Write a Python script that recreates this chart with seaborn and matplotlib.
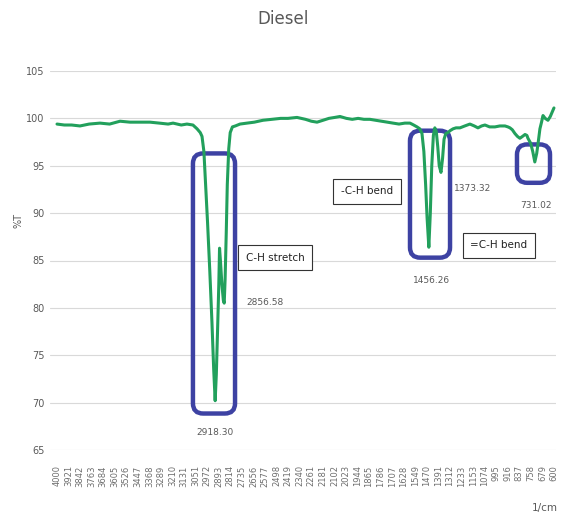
import numpy as np
import pandas as pd
import matplotlib
matplotlib.use("Agg")
import matplotlib.pyplot as plt
from matplotlib.patches import FancyBboxPatch
import seaborn as sns

# ---- data ----
wavenumber = [4000, 3950, 3900, 3843, 3780, 3706, 3640, 3569, 3500, 3430, 3364, 3300,
              3240, 3206, 3150, 3111, 3070, 3042, 3020, 3008, 2995, 2985, 2970, 2955,
              2940, 2928, 2918, 2910, 2900, 2893, 2888, 2882, 2872, 2862, 2856, 2850,
              2842, 2835, 2825, 2815, 2800, 2780, 2748, 2700, 2650, 2591, 2530, 2470,
              2420, 2358, 2300, 2260, 2221, 2180, 2140, 2100, 2064, 2020, 1980, 1940,
              1900, 1859, 1820, 1780, 1740, 1701, 1660, 1620, 1585, 1560, 1537, 1518,
              1503, 1490, 1478, 1468, 1456, 1446, 1436, 1425, 1415, 1405, 1395, 1385,
              1373, 1362, 1352, 1340, 1325, 1311, 1290, 1270, 1243, 1210, 1175, 1145,
              1120, 1095, 1072, 1040, 1004, 970, 935, 915, 901, 885, 867, 850, 833,
              815, 798, 785, 778, 760, 745, 731, 718, 705, 696, 685, 675, 660, 641,
              625, 614, 600]
transmittance = [99.4, 99.3, 99.3, 99.2, 99.4, 99.5, 99.4, 99.7, 99.6, 99.6, 99.6, 99.5,
                 99.4, 99.5, 99.3, 99.4, 99.3, 98.9, 98.5, 98.1, 96.5, 93.5, 89.0, 84.0,
                 78.5, 73.5, 70.2, 73.0, 78.5, 82.5, 86.3, 85.0, 82.5, 80.8, 80.5, 83.0,
                 88.0, 93.0, 96.8, 98.5, 99.1, 99.2, 99.4, 99.5, 99.6, 99.8, 99.9, 100.0,
                 100.0, 100.1, 99.9, 99.7, 99.6, 99.8, 100.0, 100.1, 100.2, 100.0, 99.9, 100.0,
                 99.9, 99.9, 99.8, 99.7, 99.6, 99.5, 99.4, 99.5, 99.5, 99.3, 99.1, 98.9,
                 98.4, 96.5, 93.0, 89.5, 86.4, 90.0, 95.0, 98.2, 99.0, 98.6, 97.0, 95.0,
                 94.3, 95.8, 97.8, 98.4, 98.5, 98.7, 98.9, 99.0, 99.0, 99.2, 99.4, 99.2,
                 99.0, 99.2, 99.3, 99.1, 99.1, 99.2, 99.2, 99.1, 99.0, 98.8, 98.4, 98.1, 97.9,
                 98.1, 98.3, 98.2, 97.9, 97.4, 96.5, 95.4, 96.3, 97.8, 98.9, 99.6, 100.3, 100.0, 99.8,
                 100.2, 100.6, 101.1]

tick_labels = [4000, 3921, 3842, 3763, 3684, 3605, 3526, 3447, 3368, 3289, 3210, 3131,
               3051, 2972, 2893, 2814, 2735, 2656, 2577, 2498, 2419, 2340, 2261, 2181,
               2102, 2023, 1944, 1865, 1786, 1707, 1628, 1549, 1470, 1391, 1312, 1233,
               1153, 1074, 995, 916, 837, 758, 679, 600]
y_ticks = [65, 70, 75, 80, 85, 90, 95, 100, 105]

peak_labels = ["2918.30", "2856.58", "1456.26", "1373.32", "731.02"]
group_labels = ["C-H stretch", "-C-H bend", "=C-H bend"]

df = pd.DataFrame({"wn": wavenumber, "T": transmittance})

# ---- style ----
sns.set_style("white")
plt.rcParams["font.family"] = ["DejaVu Sans"]

grey = "#595959"
green = "#22A05C"
blue = "#3D42A3"

fig = plt.figure(figsize=(5.67, 5.14), dpi=100)
ax = fig.add_axes([50/567, 1-450/514, 506/567, 379/514])

sns.lineplot(data=df, x="wn", y="T", ax=ax, color=green, linewidth=2.2, zorder=5)

ax.set_xlim(4048, 586)
ax.set_ylim(65, 105)
ax.set_xticks(tick_labels)
ax.set_xticklabels([str(t) for t in tick_labels], rotation=90, fontsize=6, color="#6E6E6E")
ax.set_yticks(y_ticks)
ax.set_yticklabels([str(t) for t in y_ticks], fontsize=7, color=grey)
ax.tick_params(axis="x", length=0, pad=11)
ax.tick_params(axis="y", length=0, pad=4)
ax.grid(axis="y", color="#D9D9D9", linewidth=0.8)
ax.grid(axis="x", visible=False)
for s in ax.spines.values():
    s.set_visible(False)
ax.set_xlabel("")
ax.set_ylabel("")

fig.text(283/567, 1-19/514, "Diesel", ha="center", va="center", fontsize=12, color=grey)
fig.text(18/567, 1-220/514, "%T", rotation=90, ha="center", va="center", fontsize=7, color=grey)
fig.text(545/567, 1-508/514, "1/cm", ha="center", va="center", fontsize=7.5, color=grey)

# rounded highlight boxes (wn_left, wn_right, T_bottom, T_top)
boxes = [(3070, 2782, 68.85, 96.3), (1585, 1311, 85.3, 98.7), (853, 627, 93.2, 97.25)]
aspect = 1/64.8
for x0, x1, y0, y1 in boxes:
    p = FancyBboxPatch((x1, y0), x0 - x1, y1 - y0,
                       boxstyle="round,pad=0,rounding_size=70",
                       mutation_aspect=aspect, fill=False, edgecolor=blue,
                       linewidth=3.2, zorder=4)
    ax.add_patch(p)

# peak value labels
peak_pos = [(2918, 66.8), (2577, 80.6), (1435, 82.9), (1160, 92.6), (723, 90.8)]
for lab, (x, y) in zip(peak_labels, peak_pos):
    ax.text(x, y, lab, ha="center", va="center", fontsize=6.5, color=grey)

# group labels with frames
group_pos = [(2508, 85.3), (1879, 92.3), (976, 86.6)]
for lab, (x, y) in zip(group_labels, group_pos):
    ax.text(x, y, lab, ha="center", va="center", fontsize=7.5, color="#222222",
            bbox=dict(boxstyle="square,pad=0.75", facecolor="white", edgecolor="#333333",
                      linewidth=0.8), clip_on=False, zorder=6)

fig.savefig("out.png", dpi=100)
